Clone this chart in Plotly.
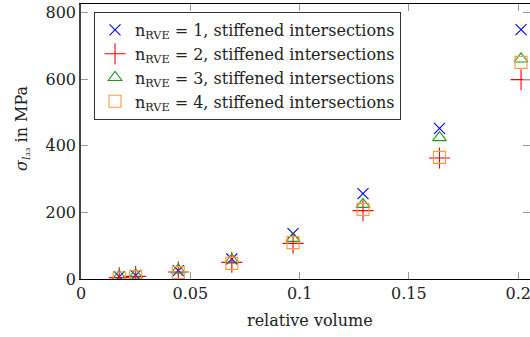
import plotly.graph_objects as go

rel_volume = [0.0175, 0.025, 0.0445, 0.069, 0.097, 0.129, 0.164, 0.2013]
sigma_n1 = [7, 11, 25, 60, 136, 256, 452, 748]
sigma_n2 = [4, 8, 21, 50, 107, 205, 363, 598]
sigma_n3 = [8, 12, 27, 57, 122, 224, 424, 660]
sigma_n4 = [3, 7, 19, 47, 109, 209, 365, 650]

x_ticks = [0, 0.05, 0.1, 0.15, 0.2]
x_tick_labels = ["0", "0.05", "0.1", "0.15", "0.2"]
y_ticks = [0, 200, 400, 600, 800]

series = [
    ("n<sub>RVE</sub> = 1, stiffened intersections", sigma_n1, "x-thin-open", "#0000ff", 11),
    ("n<sub>RVE</sub> = 2, stiffened intersections", sigma_n2, "cross-thin-open", "#ff0000", 15),
    ("n<sub>RVE</sub> = 3, stiffened intersections", sigma_n3, "triangle-up-open", "#1a9a1a", 12),
    ("n<sub>RVE</sub> = 4, stiffened intersections", sigma_n4, "square-open", "#ff9a3c", 12),
]

FONT = "DejaVu Serif"
fig = go.Figure()
for name, ys, sym, col, sz in series:
    fig.add_trace(go.Scatter(
        x=rel_volume, y=ys, mode="markers", name=name,
        marker=dict(symbol=sym, size=sz, color=col, line=dict(color=col, width=1.1)),
    ))

fig.update_layout(
    width=530, height=337,
    margin=dict(l=81, r=0, t=4, b=58),
    paper_bgcolor="white", plot_bgcolor="white",
    font=dict(family=FONT, size=16, color="#222"),
    showlegend=True,
    legend=dict(x=0.029, y=0.971, xanchor="left", yanchor="top",
                bordercolor="#333", borderwidth=1, bgcolor="white",
                font=dict(family=FONT, size=16), itemwidth=30,
                tracegroupgap=0),
    xaxis=dict(range=[0, (530 - 81) / 2186], tickvals=x_ticks, ticktext=x_tick_labels,
               automargin=False, ticklabeloverflow="allow",
               showgrid=False, zeroline=False, showline=True, linecolor="black", linewidth=1,
               mirror="ticks", ticks="inside", ticklen=7, tickcolor="#999", tickwidth=1,
               tickfont=dict(family=FONT, size=16)),
    yaxis=dict(range=[0, 825], tickvals=y_ticks, automargin=False,
               showgrid=False, zeroline=False, showline=True, linecolor="#444", linewidth=1.5,
               mirror="ticks", ticks="inside", ticklen=7, tickcolor="#999", tickwidth=1,
               tickfont=dict(family=FONT, size=16)),
    annotations=[
        dict(text="relative volume", x=(310 - 81) / 449, y=(279 - 320) / 275,
             xref="paper", yref="paper", xanchor="center", yanchor="middle",
             showarrow=False, font=dict(family=FONT, size=16)),
        dict(text="<i>σ</i><sub><i>l</i>₃₃</sub> in MPa", x=(22 - 81) / 449, y=(279 - 128) / 275,
             xref="paper", yref="paper", xanchor="center", yanchor="middle", textangle=-90,
             showarrow=False, font=dict(family=FONT, size=16)),
    ],
)
fig.write_html("out.html", config={"displayModeBar": False},
               post_script="document.body.style.margin='0';document.body.style.padding='0';")
